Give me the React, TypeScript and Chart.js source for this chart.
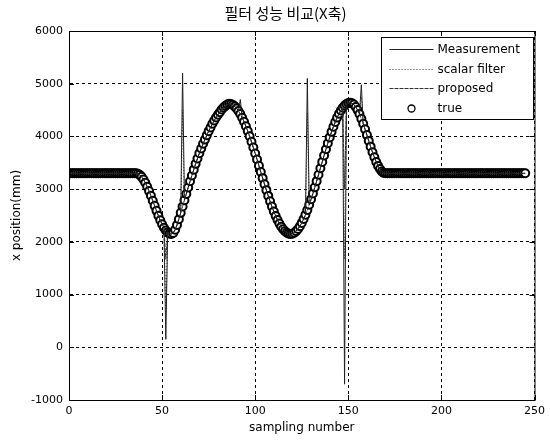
import React, { useEffect, useRef } from 'react';
import { Chart, registerables } from 'chart.js';

Chart.register(...registerables);

const TITLE = '필터 성능 비교(X축)';
const X_TITLE = 'sampling number';
const Y_TITLE = 'x position(mm)';
const X_TICKS = [0, 50, 100, 150, 200, 250];
const Y_TICKS = [-1000, 0, 1000, 2000, 3000, 4000, 5000, 6000];
const SERIES_LABELS = ['Measurement', 'scalar filter', 'proposed', 'true'];

// true x position per sample (sample 0..245)
const trueValues = [
  3300, 3300, 3300, 3300, 3300, 3300, 3300, 3300, 3300, 3300, 3300, 3300,
  3300, 3300, 3300, 3300, 3300, 3300, 3300, 3300, 3300, 3300, 3300, 3300,
  3300, 3300, 3300, 3300, 3300, 3300, 3300, 3300, 3300, 3300, 3300, 3300,
  3300, 3292, 3270, 3233, 3183, 3120, 3046, 2963, 2873, 2779, 2683, 2588,
  2497, 2411, 2335, 2269, 2216, 2178, 2156, 2150,
  2170, 2230, 2320, 2430, 2550, 2670, 2790, 2910, 3030, 3150, 3260, 3370,
  3480, 3580, 3680, 3770, 3860, 3940, 4020, 4100, 4170, 4240, 4300, 4360,
  4410, 4460, 4510, 4550, 4580, 4605, 4620,
  4614, 4598, 4570, 4532, 4483, 4424, 4356, 4279, 4194, 4101, 4003, 3898,
  3789, 3676, 3561, 3444, 3326, 3209, 3094, 2981, 2872, 2768, 2669, 2576,
  2491, 2414, 2346, 2287, 2238, 2200, 2172, 2156, 2150,
  2156, 2174, 2204, 2245, 2297, 2360, 2433, 2515, 2605, 2703, 2808, 2919,
  3034, 3152, 3273, 3395, 3517, 3638, 3756, 3871, 3982, 4087, 4185, 4275,
  4357, 4430, 4493, 4545, 4586, 4616, 4634, 4640,
  4631, 4604, 4559, 4499, 4424, 4336, 4239, 4134, 4025, 3915, 3806, 3701,
  3604, 3516, 3441, 3381, 3336, 3309, 3300,
  3300, 3300, 3300, 3300, 3300, 3300, 3300, 3300, 3300, 3300, 3300, 3300,
  3300, 3300, 3300, 3300, 3300, 3300, 3300, 3300, 3300, 3300, 3300, 3300,
  3300, 3300, 3300, 3300, 3300, 3300, 3300, 3300, 3300, 3300, 3300, 3300,
  3300, 3300, 3300, 3300, 3300, 3300, 3300, 3300, 3300, 3300, 3300, 3300,
  3300, 3300, 3300, 3300, 3300, 3300, 3300, 3300, 3300, 3300, 3300, 3300,
  3300, 3300, 3300, 3300, 3300, 3300, 3300, 3300, 3300, 3300, 3300, 3300,
  3300, 3300, 3300,
];

// outlier samples where the series leave the true track
const measurementSpikeSamples = [52, 61, 92, 128, 148, 157];
const measurementSpikeValues = [150, 5200, 4700, 5100, -700, 4980];
const scalarSpikeSamples = [52, 61, 128, 148, 157];
const scalarSpikeValues = [650, 4500, 4450, 1670, 4750];
const proposedSpikeSamples = [52, 148];
const proposedSpikeValues = [1670, 3000];

function withSpikes(base: number[], idx: number[], vals: number[]) {
  return base.map((v, i) => {
    const k = idx.indexOf(i);
    return k >= 0 ? vals[k] : v;
  });
}

function toPoints(values: number[]) {
  return values.map((y, i) => ({ x: i, y }));
}

const FONT = 'DejaVu Sans';

const framePlugin = {
  id: 'frame',
  afterDraw(chart: any) {
    const { ctx, chartArea: a, scales } = chart;
    const xs = scales.x;
    const ys = scales.y;
    ctx.save();
    ctx.setLineDash([]);
    ctx.strokeStyle = '#000';
    ctx.lineWidth = 1;
    // inward ticks
    ctx.beginPath();
    X_TICKS.forEach((t) => {
      const p = Math.round(xs.getPixelForValue(t)) + 0.5;
      ctx.moveTo(p, a.bottom);
      ctx.lineTo(p, a.bottom - 5);
      ctx.moveTo(p, a.top);
      ctx.lineTo(p, a.top + 5);
    });
    Y_TICKS.forEach((t) => {
      const p = Math.round(ys.getPixelForValue(t)) + 0.5;
      ctx.moveTo(a.left, p);
      ctx.lineTo(a.left + 5, p);
      ctx.moveTo(a.right, p);
      ctx.lineTo(a.right - 5, p);
    });
    ctx.stroke();
    // box
    ctx.strokeRect(a.left + 0.5, a.top + 0.5, a.right - a.left, a.bottom - a.top);

    // legend
    const bw = 152;
    const bh = 82;
    const bx = Math.round(a.right - bw - 2) + 0.5;
    const by = Math.round(a.top + 6) + 0.5;
    ctx.fillStyle = '#fff';
    ctx.fillRect(bx, by, bw, bh);
    ctx.strokeRect(bx, by, bw, bh);
    ctx.font = `12px "${FONT}"`;
    ctx.textBaseline = 'middle';
    ctx.textAlign = 'left';
    chart.data.datasets.forEach((ds: any, i: number) => {
      const cy = Math.round(by + 11.5 + i * 19.7) + 0.5;
      ctx.strokeStyle = ds.borderColor;
      ctx.lineWidth = 1;
      if (ds.showLine === false) {
        ctx.setLineDash([]);
        ctx.fillStyle = '#fff';
        ctx.beginPath();
        ctx.arc(bx + 30, cy, 3.5, 0, Math.PI * 2);
        ctx.fill();
        ctx.lineWidth = 1.3;
        ctx.stroke();
      } else {
        ctx.setLineDash(ds.borderDash || []);
        ctx.beginPath();
        ctx.moveTo(bx + 8, cy);
        ctx.lineTo(bx + 52, cy);
        ctx.stroke();
      }
      ctx.setLineDash([]);
      ctx.fillStyle = '#000';
      ctx.fillText(ds.label, bx + 56, cy);
    });

    // title
    ctx.font = `15px "Noto Sans CJK KR"`;
    ctx.textAlign = 'center';
    ctx.textBaseline = 'middle';
    ctx.fillStyle = '#000';
    ctx.fillText(TITLE, 285.5, 13.5);
    ctx.restore();
  },
};

export default function App() {
  const ref = useRef<HTMLCanvasElement | null>(null);

  useEffect(() => {
    if (!ref.current) return;
    const measurement = withSpikes(trueValues, measurementSpikeSamples, measurementSpikeValues);
    const scalar = withSpikes(trueValues, scalarSpikeSamples, scalarSpikeValues);
    const proposed = withSpikes(trueValues, proposedSpikeSamples, proposedSpikeValues);

    const chart = new Chart(ref.current, {
      type: 'line',
      data: {
        datasets: [
          {
            label: SERIES_LABELS[0],
            data: toPoints(measurement),
            borderColor: '#222',
            borderWidth: 1,
            pointRadius: 0,
            fill: false,
            tension: 0,
            order: 1,
          },
          {
            label: SERIES_LABELS[1],
            data: toPoints(scalar),
            borderColor: '#333',
            borderWidth: 1,
            borderDash: [1, 2],
            pointRadius: 0,
            fill: false,
            tension: 0,
            order: 2,
          },
          {
            label: SERIES_LABELS[2],
            data: toPoints(proposed),
            borderColor: '#333',
            borderWidth: 1,
            borderDash: [4, 1],
            pointRadius: 0,
            fill: false,
            tension: 0,
            order: 3,
          },
          {
            label: SERIES_LABELS[3],
            data: toPoints(trueValues),
            borderColor: '#000',
            backgroundColor: '#fff',
            showLine: false,
            pointRadius: 4,
            pointBorderWidth: 2,
            pointBackgroundColor: '#fff',
            pointBorderColor: '#000',
            order: 4,
          },
        ] as any,
      },
      options: {
        responsive: false,
        animation: false,
        devicePixelRatio: 1,
        layout: { padding: { top: 31, right: 13, bottom: 0, left: 0 } },
        plugins: {
          legend: { display: false },
          title: { display: false },
          tooltip: { enabled: false },
        },
        scales: {
          x: {
            type: 'linear',
            min: 0,
            max: 250,
            afterBuildTicks: (s: any) => {
              s.ticks = X_TICKS.map((v) => ({ value: v }));
            },
            afterFit: (s: any) => {
              s.height = 41;
            },
            grid: { color: '#000', lineWidth: 1, drawTicks: false },
            border: { display: true, color: '#000', dash: [3, 3] },
            ticks: {
              color: '#000',
              font: { family: FONT, size: 11 },
              padding: 5,
              maxRotation: 0,
              autoSkip: false,
              callback: (v: any) => String(v),
            },
            title: {
              display: true,
              text: X_TITLE,
              color: '#000',
              font: { family: FONT, size: 12 },
              padding: { top: 0, bottom: 6 },
            },
          },
          y: {
            type: 'linear',
            min: -1000,
            max: 6000,
            afterBuildTicks: (s: any) => {
              s.ticks = Y_TICKS.map((v) => ({ value: v }));
            },
            afterFit: (s: any) => {
              s.width = 69;
            },
            grid: { color: '#000', lineWidth: 1, drawTicks: false },
            border: { display: true, color: '#000', dash: [3, 3] },
            ticks: {
              color: '#000',
              font: { family: FONT, size: 11 },
              padding: 6,
              autoSkip: false,
              callback: (v: any) => String(v),
            },
            title: {
              display: true,
              text: Y_TITLE,
              color: '#000',
              font: { family: FONT, size: 12 },
              padding: { top: 10, bottom: 0 },
            },
          },
        },
      } as any,
      plugins: [framePlugin],
    });
    return () => chart.destroy();
  }, []);

  return (
    <div style={{ position: 'fixed', left: 0, top: 0, width: 550, height: 441, background: '#fff' }}>
      <canvas ref={ref} width={550} height={441} style={{ display: 'block', width: 550, height: 441 }} />
    </div>
  );
}
